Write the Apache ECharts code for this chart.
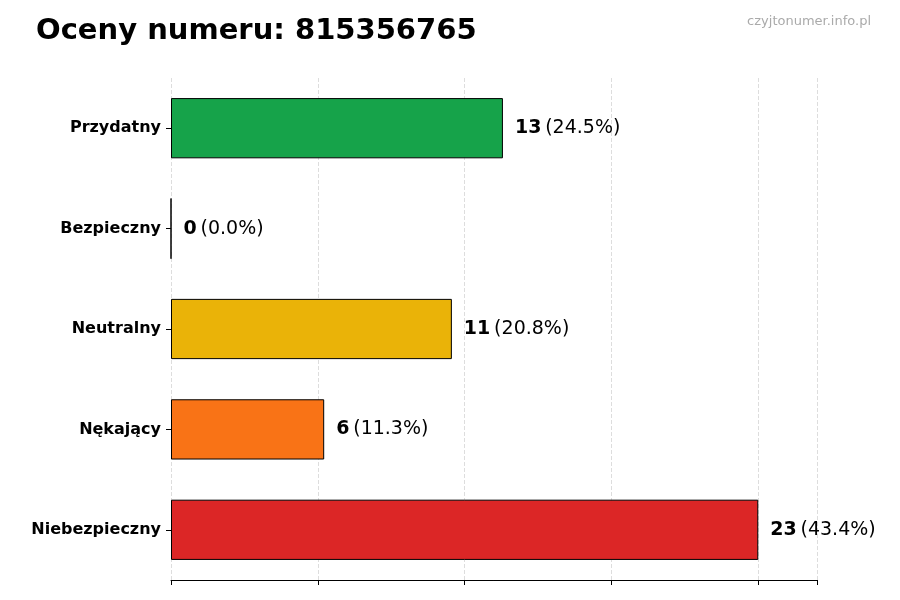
<!DOCTYPE html>
<html><head><meta charset="utf-8">
<script src="https://cdn.jsdelivr.net/npm/echarts@6/dist/echarts.min.js"></script>
<style>html,body{margin:0;padding:0;background:#fff}#c{width:900px;height:600px}</style>
</head><body><div id="c"></div>
<script>
const categories = ['Przydatny','Bezpieczny','Neutralny','Nękający','Niebezpieczny'];
const values = [13, 0, 11, 6, 23];
const percents = ['24.5%','0.0%','20.8%','11.3%','43.4%'];
const colors = ['#16a34a','#22c55e','#eab308','#f97316','#dc2626'];
const chart = echarts.init(document.getElementById('c'));
const F = 'DejaVu Sans';
chart.setOption({
  animation:false,
  textStyle:{fontFamily:F},
  title:[{text:'Oceny numeru: 815356765',left:31,top:12,textStyle:{fontFamily:F,fontSize:29,fontWeight:'bold',color:'#000'}},
         {text:'czyjtonumer.info.pl',right:24,top:10,textStyle:{fontFamily:F,fontSize:13,fontWeight:'normal',color:'#aaa'}}],
  grid:{left:171,right:83,top:78,bottom:20},
  xAxis:{type:'value',min:0,max:25.3,interval:5.75,
    axisLine:{show:true,lineStyle:{color:'#000'}},
    axisTick:{show:true,length:5,lineStyle:{color:'#000'}},
    axisLabel:{show:false},
    splitLine:{show:true,lineStyle:{type:'dashed',color:'#ddd'}}},
  yAxis:{type:'category',data:categories,inverse:true,
    axisLine:{show:false},
    axisTick:{show:true,length:5,alignWithLabel:true,lineStyle:{color:'#000'}},
    axisLabel:{fontFamily:F,fontSize:16,fontWeight:'bold',color:'#000',margin:10}},
  series:[{type:'bar',barWidth:'60%',
    data:values.map((v,i)=>({value:v,itemStyle:{color:colors[i],borderColor:'#000',borderWidth:1}})),
    label:{show:true,position:'right',distance:12,
      formatter:p=>'{b|'+values[p.dataIndex]+'} {n|('+percents[p.dataIndex]+')}',
      rich:{b:{fontFamily:F,fontSize:19,fontWeight:'bold',color:'#000'},n:{fontFamily:F,fontSize:19,color:'#000'}}}}]
});
</script></body></html>
